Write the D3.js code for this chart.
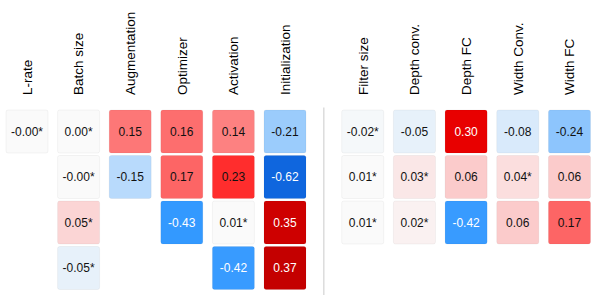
<!DOCTYPE html>
<html lang="en">
<head>
<meta charset="UTF-8">
<title>Correlation grid</title>
<style>
  html, body { margin: 0; padding: 0; background: #fff; }
  svg { display: block; font-family: "Liberation Sans", Arial, Helvetica, sans-serif; }
</style>
</head>
<body>
<svg id="chart" width="598" height="306"></svg>
<script src="https://cdn.jsdelivr.net/npm/d3@7"></script>
<script>
// left group (training settings)
const leftCols = ['L-rate', 'Batch size', 'Augmentation', 'Optimizer', 'Activation', 'Initialization'];
const leftVals = [
  [-0.002],
  [0.002, -0.002, 0.05, -0.05],
  [0.15, -0.15],
  [0.16, 0.17, -0.43],
  [0.14, 0.23, 0.01, -0.42],
  [-0.21, -0.62, 0.35, 0.37]
];
const leftStar = [
  [true],
  [true, true, true, true],
  [false, false],
  [false, false, false],
  [false, false, true, false],
  [false, false, false, false]
];

// right group (architecture)
const rightCols = ['Filter size', 'Depth conv.', 'Depth FC', 'Width Conv.', 'Width FC'];
const rightVals = [
  [-0.02, 0.01, 0.01],
  [-0.05, 0.03, 0.02],
  [0.30, 0.06, -0.42],
  [-0.08, 0.04, 0.06],
  [-0.24, 0.06, 0.17]
];
const rightStar = [
  [true, true, true],
  [false, true, true],
  [false, false, false],
  [false, true, false],
  [false, false, false]
];

const svg = d3.select('#chart');

// diverging blue - white - red, darker red past 0.3
const color = d3.scaleLinear()
  .domain([-0.7, -0.43, -0.01, 0.01, 0.25, 0.30, 0.40])
  .range(['#0050d0', '#3399ff', '#fafafa', '#fafafa', '#ff1a1a', '#e80000', '#b40000'])
  .clamp(true);

const y = d3.scaleBand().domain([0, 1, 2, 3]).range([110, 289.5]).paddingInner(0.055);

const fmt = v => (v < 0 ? '-' : '') + Math.abs(v).toFixed(2);

function drawGroup(cols, vals, stars, x0, x1) {
  const x = d3.scaleBand().domain(cols).range([x0, x1]).paddingInner(0.186);
  const g = svg.append('g');

  // column headers, rotated
  g.selectAll('text.head')
    .data(cols)
    .join('text')
    .attr('class', 'head')
    .attr('transform', d => `translate(${x(d) + x.bandwidth() / 2},95) rotate(-90)`)
    .attr('dy', '0.36em')
    .attr('font-size', '13.5px')
    .attr('fill', '#000')
    .text(d => d);

  const cells = [];
  cols.forEach((c, i) => {
    vals[i].forEach((v, j) => cells.push({ col: c, row: j, v, star: stars[i][j] }));
  });

  const cell = g.selectAll('g.cell')
    .data(cells)
    .join('g')
    .attr('class', 'cell')
    .attr('transform', d => `translate(${x(d.col)},${y(d.row)})`);

  cell.append('rect')
    .attr('width', x.bandwidth())
    .attr('height', y.bandwidth())
    .attr('rx', 2)
    .attr('fill', d => color(d.v))
    .attr('stroke', 'rgba(0,0,0,0.045)')
    .attr('stroke-width', 1);

  cell.append('text')
    .attr('x', x.bandwidth() / 2)
    .attr('y', y.bandwidth() / 2)
    .attr('dy', '0.36em')
    .attr('text-anchor', 'middle')
    .attr('font-size', '12px')
    .attr('fill', d => Math.abs(d.v) >= 0.28 ? '#fff' : '#111')
    .text(d => fmt(d.v) + (d.star ? '*' : ''));

  return x;
}

drawGroup(leftCols, leftVals, leftStar, 6, 306);
drawGroup(rightCols, rightVals, rightStar, 341.7, 590.5);

// separator between the groups
svg.append('line')
  .attr('x1', 323.8).attr('x2', 323.8)
  .attr('y1', 107.5).attr('y2', 295)
  .attr('stroke', '#dcdcdc')
  .attr('stroke-width', 1.5);
</script>
</body>
</html>
